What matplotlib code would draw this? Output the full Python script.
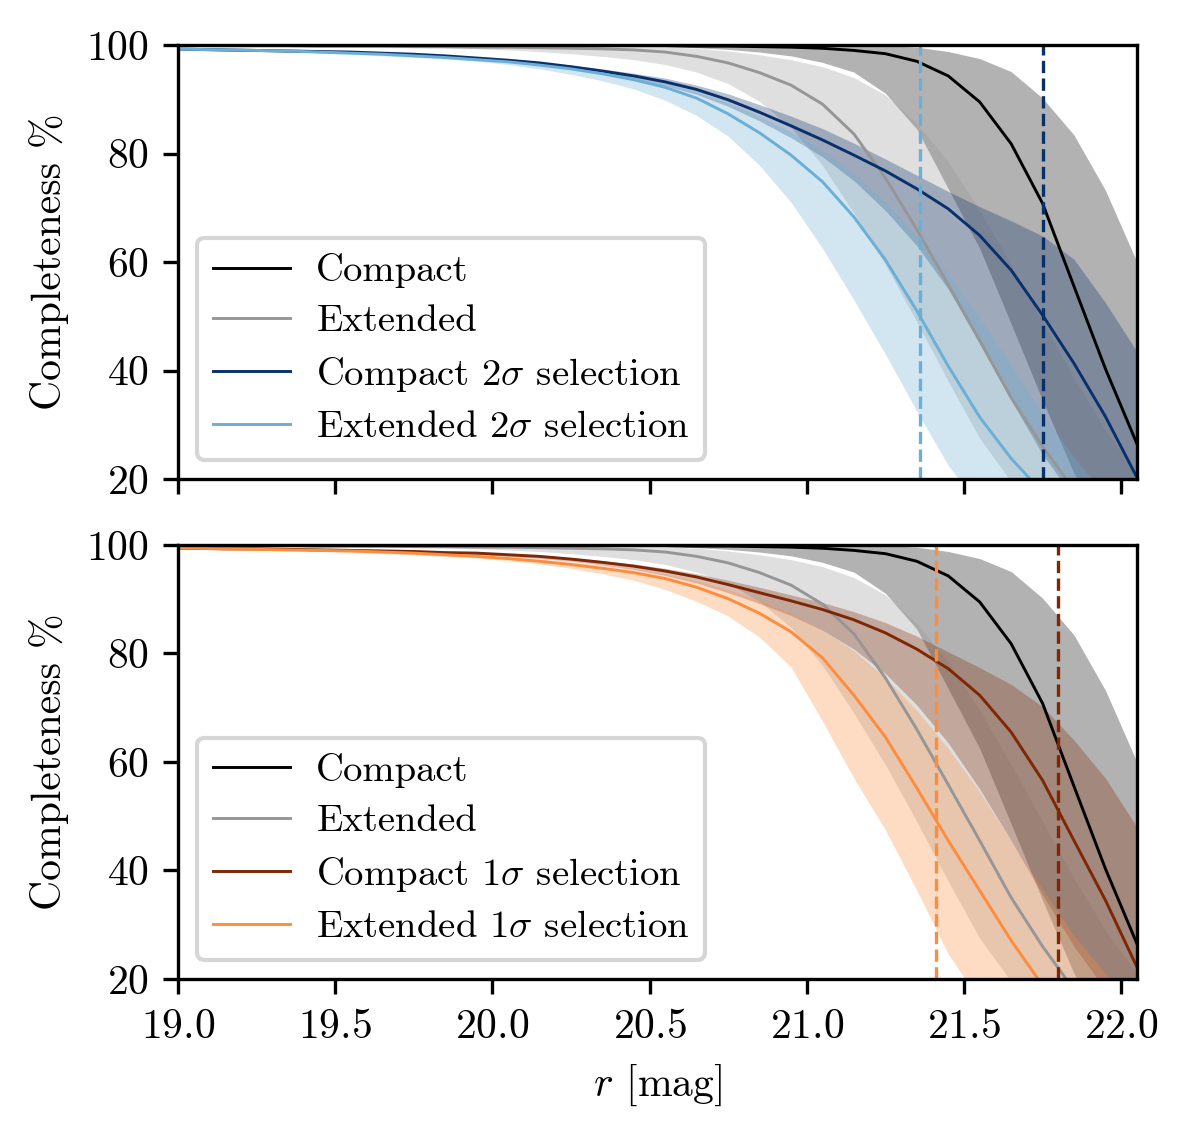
import numpy as np
import matplotlib
matplotlib.use("Agg")
import matplotlib.pyplot as plt

plt.rcParams.update({
    "font.family": "serif",
    "font.serif": ["cmr10"],
    "mathtext.fontset": "cm",
    "axes.formatter.use_mathtext": True,
    "font.size": 10,
})

# magnitude bin centres
r_mag = np.round(np.arange(18.95, 22.06, 0.1), 2)

# completeness of all injected sources (same in both panels)
compact = [99.9, 99.9, 99.9, 99.9, 99.9, 99.9, 99.9, 99.9, 99.9, 99.9, 99.9, 99.9,
           99.9, 99.9, 99.9, 99.9, 99.9, 99.8, 99.8, 99.7, 99.6, 99.4, 99.0, 98.4,
           97.0, 94.3, 89.5, 81.8, 70.8, 55.5, 40.3, 26.5]
compact_hi = [100, 100, 100, 100, 100, 100, 100, 100, 100, 100, 100, 100,
              100, 100, 100, 100, 100, 100, 100, 100, 100, 100, 100, 99.9,
              99.6, 98.8, 97.5, 95.1, 90.2, 83.4, 73.2, 60.0]
compact_lo = [99.8, 99.8, 99.8, 99.8, 99.8, 99.8, 99.8, 99.8, 99.8, 99.8, 99.8, 99.8,
              99.8, 99.8, 99.8, 99.8, 99.7, 99.5, 99.2, 98.7, 98.0, 96.8, 95.0, 91.1,
              84.5, 73.5, 62.5, 48.6, 34.5, 21.0, 12.0, 7.0]

extended = [99.9, 99.9, 99.9, 99.9, 99.9, 99.8, 99.8, 99.8, 99.7, 99.7, 99.6, 99.6,
            99.5, 99.4, 99.3, 99.1, 98.7, 97.9, 96.7, 94.9, 92.6, 89.1, 83.6, 75.5,
            66.0, 55.8, 45.5, 35.0, 26.0, 18.0, 12.0, 8.0]
extended_hi = [100, 100, 100, 100, 100, 100, 100, 100, 100, 100, 99.9, 99.9,
               99.9, 99.9, 99.9, 99.8, 99.7, 99.4, 98.9, 98.2, 97.3, 96.0, 94.0, 90.8,
               85.5, 78.5, 69.5, 59.5, 49.0, 38.5, 29.0, 21.0]
extended_lo = [99.8, 99.8, 99.7, 99.7, 99.7, 99.6, 99.6, 99.5, 99.5, 99.4, 99.3, 99.1,
               98.8, 98.4, 97.9, 97.3, 96.4, 95.0, 92.9, 89.6, 84.8, 77.8, 69.0, 59.5,
               49.0, 38.0, 27.5, 19.5, 13.5, 9.5, 6.5, 4.5]

# 2 sigma selection
compact_2s = [99.3, 99.2, 99.1, 99.0, 98.9, 98.8, 98.7, 98.5, 98.3, 98.0, 97.6, 97.2,
              96.7, 96.0, 95.2, 94.3, 93.2, 91.8, 89.9, 87.6, 85.1, 82.5, 79.7, 76.8,
              73.5, 69.8, 64.9, 58.5, 50.2, 41.3, 31.5, 20.3]
compact_2s_hi = [99.5, 99.4, 99.3, 99.2, 99.1, 99.0, 98.9, 98.7, 98.5, 98.2, 97.8, 97.4,
                 96.9, 96.3, 95.6, 94.8, 93.9, 92.6, 91.0, 89.0, 86.9, 84.6, 81.9, 79.0,
                 76.0, 73.0, 70.2, 67.6, 64.8, 60.5, 52.5, 43.5]
compact_2s_lo = [99.1, 99.0, 98.9, 98.8, 98.7, 98.6, 98.5, 98.3, 98.0, 97.7, 97.3, 96.9,
                 96.4, 95.7, 94.8, 93.8, 92.5, 90.9, 88.7, 86.0, 82.9, 79.4, 75.0, 69.5,
                 63.0, 55.0, 45.0, 34.5, 24.5, 16.5, 11.0, 7.5]

extended_2s = [99.3, 99.2, 99.1, 99.0, 98.9, 98.7, 98.5, 98.3, 98.0, 97.7, 97.3, 96.9,
               96.3, 95.6, 94.7, 93.6, 92.2, 90.2, 87.3, 83.8, 79.7, 74.8, 68.3, 60.4,
               51.0, 40.8, 31.4, 23.8, 17.5, 12.5, 9.0, 6.5]
extended_2s_hi = [99.4, 99.3, 99.2, 99.1, 99.0, 98.8, 98.6, 98.4, 98.1, 97.8, 97.4, 97.0,
                  96.5, 95.9, 95.1, 94.1, 92.9, 91.3, 89.3, 86.9, 84.0, 80.6, 76.3, 71.0,
                  64.8, 57.8, 49.8, 41.0, 32.0, 24.0, 17.0, 12.0]
extended_2s_lo = [99.1, 99.0, 98.9, 98.8, 98.7, 98.5, 98.3, 98.0, 97.7, 97.4, 97.0, 96.4,
                  95.6, 94.6, 93.4, 91.9, 89.8, 87.0, 83.2, 77.8, 71.0, 62.5, 53.0, 43.0,
                  32.5, 22.5, 15.0, 10.0, 7.0, 5.0, 3.5, 2.5]

# 1 sigma selection
compact_1s = [99.4, 99.4, 99.3, 99.3, 99.2, 99.1, 99.0, 98.9, 98.8, 98.6, 98.5, 98.2,
              97.9, 97.4, 96.8, 96.1, 95.2, 94.1, 92.7, 91.2, 89.7, 88.1, 86.2, 83.8,
              80.8, 77.2, 72.3, 65.5, 56.6, 45.5, 34.5, 22.2]
compact_1s_hi = [99.6, 99.6, 99.5, 99.5, 99.4, 99.3, 99.2, 99.1, 99.0, 98.8, 98.7, 98.4,
                 98.1, 97.7, 97.1, 96.5, 95.7, 94.7, 93.5, 92.2, 90.8, 89.4, 87.7, 85.7,
                 83.2, 80.3, 77.4, 74.3, 70.2, 64.0, 57.0, 48.0]
compact_1s_lo = [99.2, 99.2, 99.1, 99.1, 99.0, 98.9, 98.8, 98.7, 98.6, 98.4, 98.2, 97.9,
                 97.5, 97.0, 96.3, 95.5, 94.4, 93.0, 91.2, 89.2, 87.0, 84.3, 80.8, 76.3,
                 70.5, 63.5, 55.0, 45.5, 35.5, 26.0, 18.0, 12.0]

extended_1s = [99.4, 99.4, 99.3, 99.2, 99.1, 99.0, 98.9, 98.7, 98.5, 98.2, 97.9, 97.5,
               97.0, 96.4, 95.7, 94.9, 93.8, 92.2, 90.1, 87.4, 84.0, 79.2, 72.3, 64.6,
               55.2, 45.5, 36.3, 27.1, 18.8, 13.0, 9.0, 6.0]
extended_1s_hi = [99.5, 99.5, 99.4, 99.3, 99.2, 99.1, 99.0, 98.9, 98.7, 98.4, 98.1, 97.8,
                  97.4, 96.9, 96.3, 95.6, 94.6, 93.4, 91.8, 89.8, 87.4, 84.4, 80.5, 75.5,
                  69.5, 62.5, 54.5, 45.5, 36.5, 28.0, 21.0, 15.0]
extended_1s_lo = [99.2, 99.2, 99.1, 99.0, 98.9, 98.8, 98.6, 98.4, 98.2, 97.9, 97.6, 97.1,
                  96.5, 95.7, 94.7, 93.5, 91.8, 89.6, 86.9, 83.0, 77.5, 67.5, 57.0, 47.5,
                  36.3, 24.6, 16.0, 10.5, 7.0, 5.0, 3.5, 2.5]

# 50 per cent completeness limits
lim_2s = {"compact": 21.75, "extended": 21.36}
lim_1s = {"compact": 21.80, "extended": 21.41}

c_black = "#000000"
c_grey = "#969696"
c_blue_d = "#08306b"
c_blue_l = "#6baed6"
c_orng_d = "#7f2704"
c_orng_l = "#fd8d3c"

fig, (ax1, ax2) = plt.subplots(2, 1, sharex=True, figsize=(3.96, 3.78), dpi=300)
fig.subplots_adjust(left=0.1498, right=0.957, top=0.9603, bottom=0.1367, hspace=0.152)


def band(ax, y, lo, hi, color, label):
    ax.fill_between(r_mag, lo, hi, color=color, alpha=0.3, lw=0)
    ax.plot(r_mag, y, color=color, lw=0.7, label=label)


panels = [
    (ax1, r"2$\sigma$", compact_2s, compact_2s_lo, compact_2s_hi,
     extended_2s, extended_2s_lo, extended_2s_hi, c_blue_d, c_blue_l, lim_2s),
    (ax2, r"1$\sigma$", compact_1s, compact_1s_lo, compact_1s_hi,
     extended_1s, extended_1s_lo, extended_1s_hi, c_orng_d, c_orng_l, lim_1s),
]

for ax, sig, cs, cs_lo, cs_hi, es, es_lo, es_hi, cd, cl, lim in panels:
    band(ax, compact, compact_lo, compact_hi, c_black, "Compact")
    band(ax, extended, extended_lo, extended_hi, c_grey, "Extended")
    band(ax, cs, cs_lo, cs_hi, cd, "Compact " + sig + " selection")
    band(ax, es, es_lo, es_hi, cl, "Extended " + sig + " selection")
    ax.axvline(lim["extended"], color=cl, ls="--", lw=0.8)
    ax.axvline(lim["compact"], color=cd, ls="--", lw=0.8)
    ax.set_ylim(20, 100)
    ax.set_yticks([20, 40, 60, 80, 100])
    ax.set_ylabel(r"Completeness %")
    ax.legend(loc="lower left", fontsize=9.3, labelspacing=0.42, handletextpad=0.67)

ax2.set_xlim(19.0, 22.05)
ax2.set_xticks([19.0, 19.5, 20.0, 20.5, 21.0, 21.5, 22.0])
ax2.set_xlabel(r"$r$ [mag]")

fig.savefig("out.png", dpi=300)
